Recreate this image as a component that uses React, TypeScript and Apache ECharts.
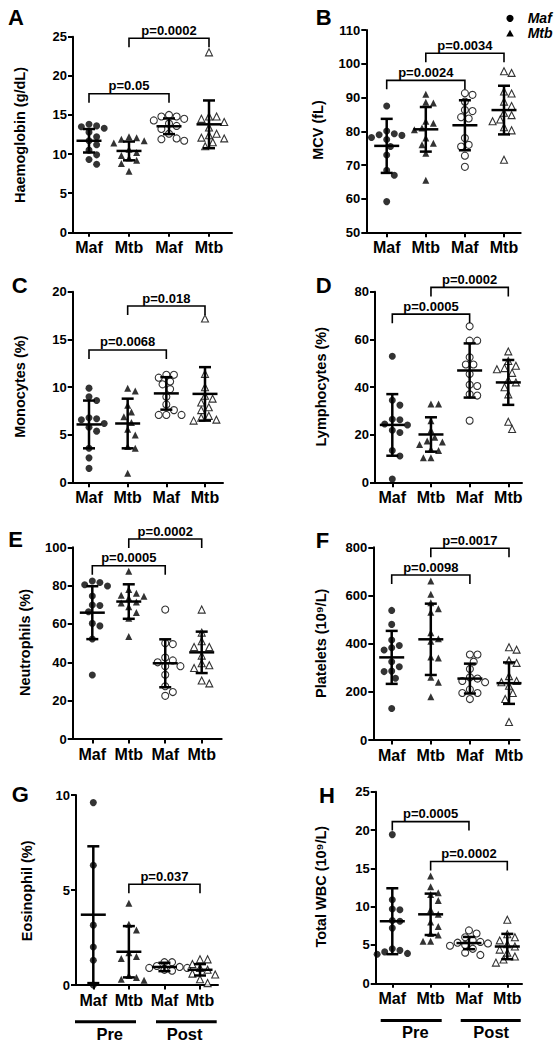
import React, { useEffect, useRef } from 'react';
import * as echarts from 'echarts';

const FONT = '"Liberation Sans", Arial, sans-serif';
const CATEGORIES = ['Maf', 'Mtb', 'Maf', 'Mtb'];
const LETTERS = ['A', 'B', 'C', 'D', 'E', 'F', 'G', 'H'];
const TITLES = [
  'Haemoglobin (g/dL)', 'MCV (fL)', 'Monocytes (%)', 'Lymphocytes (%)',
  'Neutrophils (%)', 'Platelets (10⁹/L)', 'Eosinophil (%)', 'Total WBC (10⁹/L)',
];
// y axis [min, max, interval]
const Y_TICKS = [[0, 25, 5], [50, 110, 10], [0, 20, 5], [0, 80, 20], [0, 100, 20], [0, 800, 200], [0, 10, 5], [0, 25, 5]];

// A Haemoglobin
const hbMafPre = [13.8, 13.6, 13.5, 13.3, 12.8, 12.2, 11.7, 11.2, 10.5, 9.9, 9.3, 8.7];
const hbMtbPre = [12.2, 12.1, 11.9, 11.7, 11.4, 10.6, 10.2, 9.8, 9.5, 9.2, 8.8, 7.8];
const hbMafPost = [15.0, 14.8, 14.8, 14.5, 14.3, 13.9, 13.6, 13.2, 12.6, 12.0, 11.9, 11.7];
const hbMtbPost = [23.0, 14.8, 14.8, 14.5, 14.1, 13.4, 12.6, 12.4, 12.1, 12.0, 11.5, 11.0];
const hbMean = [11.7, 10.4, 13.55, 13.8];
const hbSD = [1.5, 1.2, 1.0, 3.05];
const hbP = [[1, 3, 17.7, 'p=0.05'], [2, 4, 24.8, 'p=0.0002']];

// B MCV
const mcvMafPre = [87.5, 80.1, 79.3, 79.0, 78.8, 78.2, 77.6, 75.5, 73.0, 68.5, 67.0, 59.2];
const mcvMtbPre = [91.0, 88.6, 88.4, 83.0, 82.4, 81.0, 80.5, 78.0, 76.5, 76.0, 73.5, 65.5];
const mcvMafPost = [91.3, 90.8, 88.8, 86.3, 86.0, 84.2, 83.8, 78.0, 76.0, 75.5, 72.8, 69.5];
const mcvMtbPost = [97.8, 97.3, 91.8, 91.2, 88.8, 87.5, 85.5, 84.8, 83.5, 83.0, 81.2, 80.3, 71.6];
const mcvMean = [75.7, 80.6, 81.8, 86.3];
const mcvSD = [8.0, 6.6, 7.4, 7.2];
const mcvP = [[1, 3, 95.1, 'p=0.0024'], [2, 4, 103.1, 'p=0.0034']];

// C Monocytes
const monoMafPre = [9.9, 9.0, 8.6, 6.8, 6.7, 6.6, 6.2, 5.8, 5.4, 3.6, 2.6, 1.5];
const monoMtbPre = [9.9, 9.6, 8.1, 7.4, 6.9, 6.3, 5.6, 5.0, 3.8, 3.6, 1.0];
const monoMafPost = [11.3, 11.3, 11.0, 10.6, 10.3, 9.8, 9.0, 8.2, 7.6, 7.1, 7.1, 7.1];
const monoMtbPost = [17.2, 11.4, 10.0, 9.1, 8.8, 8.4, 7.9, 7.6, 7.0, 6.8, 6.6, 6.5];
const monoMean = [6.1, 6.2, 9.35, 9.3];
const monoSD = [2.5, 2.6, 1.7, 2.8];
const monoP = [[1, 3, 13.9, 'p=0.0068'], [2, 4, 18.5, 'p=0.018']];

// D Lymphocytes
const lymMafPre = [53.0, 34.5, 32.5, 26.6, 26.4, 24.6, 24.2, 22.0, 21.0, 13.5, 11.2, 1.5];
const lymMtbPre = [33.0, 33.0, 26.0, 22.0, 19.0, 17.5, 17.0, 16.0, 14.0, 13.5, 10.5, 10.5];
const lymMafPost = [65.5, 59.5, 59.5, 52.5, 49.5, 49.5, 45.5, 41.0, 40.5, 37.0, 36.5, 26.0];
const lymMtbPost = [55.0, 51.0, 49.0, 48.0, 47.5, 46.0, 43.0, 42.0, 40.0, 37.0, 25.5, 22.5];
const lymMean = [24.2, 20.2, 47.0, 42.0];
const lymSD = [12.9, 7.2, 11.35, 9.4];
const lymP = [[1, 3, 70.6, 'p=0.0005'], [2, 4, 81.8, 'p=0.0002']];

// E Neutrophils
const neuMafPre = [82.4, 81.6, 80.5, 79.8, 74.6, 69.9, 69.6, 66.4, 60.3, 59.0, 52.2, 33.4];
const neuMtbPre = [87.5, 78.0, 76.0, 75.0, 74.5, 73.5, 71.5, 71.0, 69.0, 66.0, 63.0, 53.5];
const neuMafPost = [67.5, 50.0, 49.5, 42.5, 41.0, 40.0, 38.0, 38.0, 33.5, 27.5, 24.5, 22.5];
const neuMtbPost = [67.5, 55.5, 51.0, 48.0, 48.0, 43.5, 39.5, 38.5, 37.0, 30.5, 29.0];
const neuMean = [65.9, 71.7, 39.5, 45.2];
const neuSD = [13.8, 9.0, 12.5, 10.8];
const neuP = [[1, 3, 90.4, 'p=0.0005'], [2, 4, 104.3, 'p=0.0002']];

// F Platelets
const pltMafPre = [538, 480, 415, 392, 383, 374, 325, 304, 286, 284, 256, 131];
const pltMtbPre = [660, 605, 570, 545, 530, 445, 420, 410, 345, 340, 260, 240, 180];
const pltMafPost = [355, 355, 325, 295, 260, 255, 245, 240, 210, 195, 195, 170];
const pltMtbPost = [385, 375, 330, 320, 265, 245, 240, 225, 195, 170, 170, 75];
const pltMean = [343, 418, 255, 236];
const pltSD = [110, 148, 62, 86];
const pltP = [[1, 3, 685, 'p=0.0098'], [2, 4, 796, 'p=0.0017']];

// G Eosinophil
const eosMafPre = [9.6, 6.3, 3.15, 2.0, 1.3, 0.0];
const eosMtbPre = [4.3, 3.2, 2.9, 1.7, 1.5, 1.4, 0.5, 0.4, 0.3, 0.25];
const eosMafPost = [1.2, 1.2, 1.0, 0.95, 0.9, 0.9, 0.8, 0.75];
const eosMtbPost = [1.35, 1.35, 1.1, 0.9, 0.8, 0.6, 0.55, 0.3, 0.1];
const eosMean = [3.7, 1.75, 0.95, 0.8];
const eosSD = [3.6, 1.35, 0.22, 0.3];
const eosP = [[2, 4, 5.3, 'p=0.037']];

// H Total WBC
const wbcMafPre = [19.4, 10.9, 9.7, 9.6, 8.2, 8.1, 7.2, 4.5, 4.3, 4.1, 3.9, 3.8];
const wbcMtbPre = [14.0, 12.6, 11.8, 11.6, 10.8, 9.6, 9.0, 8.0, 7.4, 6.5, 6.3, 5.5, 5.5];
const wbcMafPost = [6.9, 6.5, 6.0, 5.6, 5.4, 5.3, 5.2, 5.0, 4.9, 4.5, 4.0, 3.7];
const wbcMtbPost = [8.3, 6.4, 6.0, 5.6, 5.1, 4.8, 4.4, 4.0, 3.5, 3.1, 2.7];
const wbcMean = [8.1, 9.0, 5.25, 4.8];
const wbcSD = [4.3, 2.7, 0.8, 1.65];
const wbcP = [[1, 3, 21.1, 'p=0.0005'], [2, 4, 15.9, 'p=0.0002']];

const GROUPS = [
  [hbMafPre, hbMtbPre, hbMafPost, hbMtbPost],
  [mcvMafPre, mcvMtbPre, mcvMafPost, mcvMtbPost],
  [monoMafPre, monoMtbPre, monoMafPost, monoMtbPost],
  [lymMafPre, lymMtbPre, lymMafPost, lymMtbPost],
  [neuMafPre, neuMtbPre, neuMafPost, neuMtbPost],
  [pltMafPre, pltMtbPre, pltMafPost, pltMtbPost],
  [eosMafPre, eosMtbPre, eosMafPost, eosMtbPost],
  [wbcMafPre, wbcMtbPre, wbcMafPost, wbcMtbPost],
];
const MEANS = [hbMean, mcvMean, monoMean, lymMean, neuMean, pltMean, eosMean, wbcMean];
const SDS = [hbSD, mcvSD, monoSD, lymSD, neuSD, pltSD, eosSD, wbcSD];
const PVALS = [hbP, mcvP, monoP, lymP, neuP, pltP, eosP, wbcP];

// layout in px (styles, not data)
const LAYOUT = [
  { ax: 73, xe: 232, top: 36.7, bot: 232.3, c1: 89, c4: 209, tx: 20, ty: 135, lx: 8, ly: 17.5 },
  { ax: 366.3, xe: 520.7, top: 30, bot: 232.7, c1: 386.7, c4: 504, tx: 318, ty: 130, lx: 315.7, ly: 17 },
  { ax: 72.7, xe: 223, top: 291.7, bot: 482.7, c1: 89, c4: 205, tx: 20, ty: 386.7, lx: 11.7, ly: 285.8 },
  { ax: 375, xe: 522, top: 291.7, bot: 482.7, c1: 392.3, c4: 508.3, tx: 321.3, ty: 386.7, lx: 315.7, ly: 285 },
  { ax: 72.7, xe: 221.7, top: 547.3, bot: 739, c1: 92.3, c4: 201.7, tx: 25, ty: 642.5, lx: 8.3, ly: 539 },
  { ax: 373.3, xe: 519.7, top: 547.3, bot: 740, c1: 391.7, c4: 509, tx: 321.3, ty: 643.3, lx: 315.7, ly: 540 },
  { ax: 76, xe: 218, top: 795, bot: 985, c1: 93.3, c4: 200, tx: 26.7, ty: 890.8, lx: 11.7, ly: 794.7 },
  { ax: 375.7, xe: 522, top: 791.7, bot: 983.3, c1: 392.3, c4: 507.3, tx: 321.3, ty: 886.7, lx: 319, ly: 795.8 },
];

function swarm(values: number[], cat: number, ppu: number, pxPerCat: number) {
  const placed: [number, number][] = [];
  const d = 7.6;
  const step = 3.8;
  return values.map((v) => {
    const py = v * ppu;
    let chosen = 0;
    for (let k = 0; k < 60; k++) {
      const off = k === 0 ? 0 : (k % 2 === 1 ? 1 : -1) * Math.ceil(k / 2) * step;
      if (placed.every(([ox, oy]) => Math.hypot(ox - off, oy - py) >= d)) {
        chosen = off;
        break;
      }
    }
    placed.push([chosen, py]);
    return [cat + chosen / pxPerCat, v];
  });
}

function buildOption() {
  const grid: any[] = [];
  const xAxis: any[] = [];
  const yAxis: any[] = [];
  const series: any[] = [];
  const graphic: any[] = [];
  const axisLineStyle = { color: '#000', width: 2 };

  LAYOUT.forEach((L, i) => {
    const [ymin, ymax, yint] = Y_TICKS[i];
    const s = (L.c4 - L.c1) / 3;
    const xmin = 1 - (L.c1 - L.ax) / s;
    const xmax = 4 + (L.xe - L.c4) / s;
    const ppu = (L.bot - L.top) / (ymax - ymin);
    grid.push({ left: L.ax, top: L.top, width: L.xe - L.ax, height: L.bot - L.top, containLabel: false, outerBoundsMode: 'none' });
    xAxis.push({
      gridIndex: i, type: 'value', min: xmin, max: xmax,
      splitLine: { show: false },
      axisLine: { show: true, onZero: false, lineStyle: axisLineStyle },
      axisTick: { show: true, customValues: [1, 2, 3, 4], length: 4.5, lineStyle: axisLineStyle },
      axisLabel: {
        customValues: [1, 2, 3, 4],
        formatter: (v: number) => CATEGORIES[Math.round(v) - 1] ?? '',
        margin: 7, color: '#000', fontWeight: 'bold', fontSize: 16, fontFamily: FONT,
      },
    });
    yAxis.push({
      gridIndex: i, type: 'value', min: ymin, max: ymax, interval: yint,
      splitLine: { show: false },
      axisLine: { show: true, onZero: false, lineStyle: axisLineStyle },
      axisTick: { show: true, length: 5, lineStyle: axisLineStyle },
      axisLabel: { margin: 6, color: '#000', fontWeight: 'bold', fontSize: 13, fontFamily: FONT },
    });

    GROUPS[i].forEach((vals, g) => {
      const filled = g < 2;
      series.push({
        type: 'scatter', xAxisIndex: i, yAxisIndex: i, silent: true, z: 2,
        name: CATEGORIES[g],
        symbol: g % 2 === 0 ? 'circle' : 'triangle',
        symbolSize: 7,
        itemStyle: filled ? { color: '#000' } : { color: '#fff', borderColor: '#000', borderWidth: 1.1 },
        data: swarm(vals, g + 1, ppu, s),
      });
    });

    series.push({
      type: 'custom', xAxisIndex: i, yAxisIndex: i, silent: true, z: 3, clip: false,
      encode: { x: 0, y: 1 },
      data: MEANS[i].map((m, k) => [k + 1, m, SDS[i][k]]),
      renderItem: (params: any, api: any) => {
        const x = api.value(0);
        const m = api.value(1);
        const sd = api.value(2);
        const pm = api.coord([x, m]);
        const ph = api.coord([x, m + sd]);
        const pl = api.coord([x, m - sd]);
        const st = { stroke: '#000', lineWidth: 2.5 };
        return {
          type: 'group',
          children: [
            { type: 'line', shape: { x1: ph[0], y1: ph[1], x2: pl[0], y2: pl[1] }, style: st },
            { type: 'line', shape: { x1: ph[0] - 6, y1: ph[1], x2: ph[0] + 6, y2: ph[1] }, style: st },
            { type: 'line', shape: { x1: pl[0] - 6, y1: pl[1], x2: pl[0] + 6, y2: pl[1] }, style: st },
            { type: 'line', shape: { x1: pm[0] - 12.5, y1: pm[1], x2: pm[0] + 12.5, y2: pm[1] }, style: st },
          ],
        };
      },
    });

    const pv = PVALS[i];
    series.push({
      type: 'custom', xAxisIndex: i, yAxisIndex: i, silent: true, z: 4, clip: false,
      encode: { x: 0, y: 1 },
      data: pv.map((b) => [b[0], b[2], b[1]]),
      renderItem: (params: any, api: any) => {
        const p1 = api.coord([api.value(0), api.value(1)]);
        const p2 = api.coord([api.value(2), api.value(1)]);
        const label = pv[params.dataIndex][3] as string;
        return {
          type: 'group',
          children: [
            {
              type: 'polyline',
              shape: { points: [[p1[0], p1[1] + 9], [p1[0], p1[1]], [p2[0], p2[1]], [p2[0], p2[1] + 9]] },
              style: { stroke: '#000', lineWidth: 1.6, fill: 'none' },
            },
            {
              type: 'text', x: (p1[0] + p2[0]) / 2, y: p1[1] - 1.5,
              style: { text: label, fill: '#000', fontSize: 13, fontWeight: 'bold', fontFamily: FONT, align: 'center', verticalAlign: 'bottom' },
            },
          ],
        };
      },
    });

    graphic.push({
      type: 'text', x: L.lx, y: L.ly,
      style: { text: LETTERS[i], fill: '#000', fontSize: 22, fontWeight: 'bold', fontFamily: FONT, align: 'left', verticalAlign: 'middle' },
    });
    graphic.push({
      type: 'text', x: L.tx, y: L.ty, rotation: Math.PI / 2,
      style: { text: TITLES[i], fill: '#000', fontSize: 14.5, fontWeight: 'bold', fontFamily: FONT, align: 'center', verticalAlign: 'middle' },
    });
  });

  // legend in panel B
  graphic.push({ type: 'circle', shape: { cx: 510, cy: 18.3, r: 3.6 }, style: { fill: '#000' } });
  graphic.push({ type: 'polygon', shape: { points: [[506.2, 36.6], [513.8, 36.6], [510, 29.8]] }, style: { fill: '#000' } });
  graphic.push({ type: 'text', x: 527.7, y: 18.3, style: { text: 'Maf', fill: '#000', fontSize: 14, fontWeight: 'bold', fontStyle: 'italic', fontFamily: FONT, align: 'left', verticalAlign: 'middle' } });
  graphic.push({ type: 'text', x: 527.7, y: 33.3, style: { text: 'Mtb', fill: '#000', fontSize: 14, fontWeight: 'bold', fontStyle: 'italic', fontFamily: FONT, align: 'left', verticalAlign: 'middle' } });

  // Pre / Post annotations under G and H
  const prePost = [
    { y: 1021.7, pre: [75, 136], post: [156, 216.7], preX: 109.7, postX: 184.5, ty: 1034 },
    { y: 1020.5, pre: [380.7, 441.7], post: [460.7, 520.7], preX: 415.3, postX: 491.2, ty: 1032.2 },
  ];
  prePost.forEach((p) => {
    graphic.push({ type: 'line', shape: { x1: p.pre[0], y1: p.y, x2: p.pre[1], y2: p.y }, style: { stroke: '#000', lineWidth: 3 } });
    graphic.push({ type: 'line', shape: { x1: p.post[0], y1: p.y, x2: p.post[1], y2: p.y }, style: { stroke: '#000', lineWidth: 3 } });
    graphic.push({ type: 'text', x: p.preX, y: p.ty, style: { text: 'Pre', fill: '#000', fontSize: 16.5, fontWeight: 'bold', fontFamily: FONT, align: 'center', verticalAlign: 'middle' } });
    graphic.push({ type: 'text', x: p.postX, y: p.ty, style: { text: 'Post', fill: '#000', fontSize: 16.5, fontWeight: 'bold', fontFamily: FONT, align: 'center', verticalAlign: 'middle' } });
  });

  return {
    animation: false,
    backgroundColor: '#fff',
    textStyle: { fontFamily: FONT },
    grid, xAxis, yAxis, series, graphic,
  };
}

export default function App() {
  const ref = useRef<HTMLDivElement>(null);
  useEffect(() => {
    if (!ref.current) return;
    const chart = echarts.init(ref.current, undefined, { renderer: 'svg' });
    chart.setOption(buildOption() as any);
    return () => chart.dispose();
  }, []);
  return <div ref={ref} style={{ position: 'absolute', left: 0, top: 0, width: 559, height: 1048 }} />;
}
